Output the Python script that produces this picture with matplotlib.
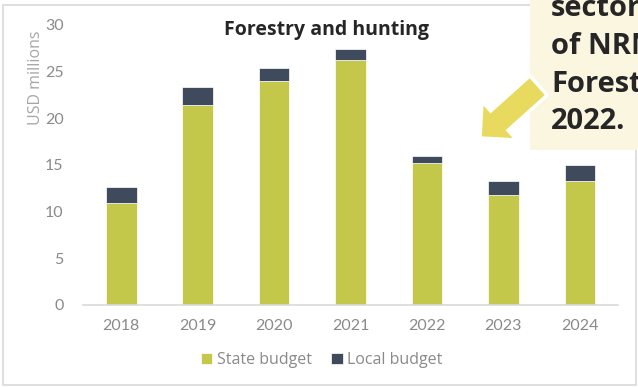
import numpy as np
import matplotlib.pyplot as plt
from matplotlib.patches import Rectangle, FancyArrow

plt.rcParams['font.family'] = ['Lato', 'DejaVu Sans']

years = ['2018', '2019', '2020', '2021', '2022', '2023', '2024']
state_budget = [10.9, 21.4, 24.0, 26.3, 15.25, 11.8, 13.3]
local_budget = [1.75, 2.0, 1.4, 1.1, 0.75, 1.5, 1.7]
yticks = [0, 5, 10, 15, 20, 25, 30]

state_col = '#c3c84b'
local_col = '#3f4b5c'
tick_col = '#8a8a8a'

W, H = 638, 387
fig = plt.figure(figsize=(W / 100, H / 100), dpi=100)
ax = fig.add_axes([83 / W, 1 - 305 / H, 535 / W, 280 / H])

x = np.arange(len(years))
ax.bar(x, state_budget, width=0.4, color=state_col, edgecolor='white', linewidth=0.5, label='State budget')
ax.bar(x, local_budget, width=0.4, bottom=state_budget, color=local_col, edgecolor='white', linewidth=0.5,
       label='Local budget')

ax.set_xlim(-0.5, len(years) - 0.5)
ax.set_ylim(0, 30)
ax.set_yticks(yticks)
ax.set_xticks(x)
ax.set_xticklabels(years)
ax.tick_params(axis='both', length=0, labelsize=11.5, labelcolor=tick_col)
ax.tick_params(axis='y', pad=14)
ax.tick_params(axis='x', pad=10)
for s in ['top', 'right', 'left']:
    ax.spines[s].set_visible(False)
ax.spines['bottom'].set_color('#d9d9d9')
ax.spines['bottom'].set_linewidth(1.2)

fig.text(36 / W, 1 - 78 / H, 'USD millions', rotation=90, ha='center', va='center',
         fontsize=11.5, color='#a6a6a6', family='Open Sans')
fig.text(327 / W, 1 - 30 / H, 'Forestry and hunting', ha='center', va='center',
         fontsize=14, fontweight='bold', color='#262626', family='Open Sans')

fig.legend(loc='center', bbox_to_anchor=(322 / W, 1 - 360 / H), ncol=2, frameon=False,
           prop={'family': 'Open Sans', 'size': 11.5}, labelcolor=tick_col,
           handlelength=0.7, handleheight=0.7, handletextpad=0.3, columnspacing=1.2)

# chart frame
fig.add_artist(Rectangle((3 / W, 2 / H), 633 / W, 380 / H, transform=fig.transFigure,
                         fill=False, edgecolor='#d9d9d9', linewidth=1.2, zorder=1))

# callout box on the right
inch = fig.dpi_scale_trans
fig.add_artist(Rectangle((5.30, 2.37), 1.2, 1.6, transform=inch, facecolor='#fbf6df',
                         edgecolor='none', zorder=2))
callout = ['sector', 'of NRM', 'Forestry', '2022.']
for i, line in enumerate(callout):
    fig.text(5.51, 3.71 - i * 0.378, line, transform=inch, fontsize=21, fontweight='bold',
             color='#262626', va='baseline', ha='left', zorder=3, family='Open Sans')

fig.add_artist(FancyArrow(5.385, 3.015, -0.585, -0.525, width=0.26, head_width=0.52,
                          head_length=0.26, length_includes_head=True, transform=inch,
                          facecolor='#e8da5e', edgecolor='white', linewidth=2.5, zorder=4))

fig.savefig('out.png', dpi=100)
